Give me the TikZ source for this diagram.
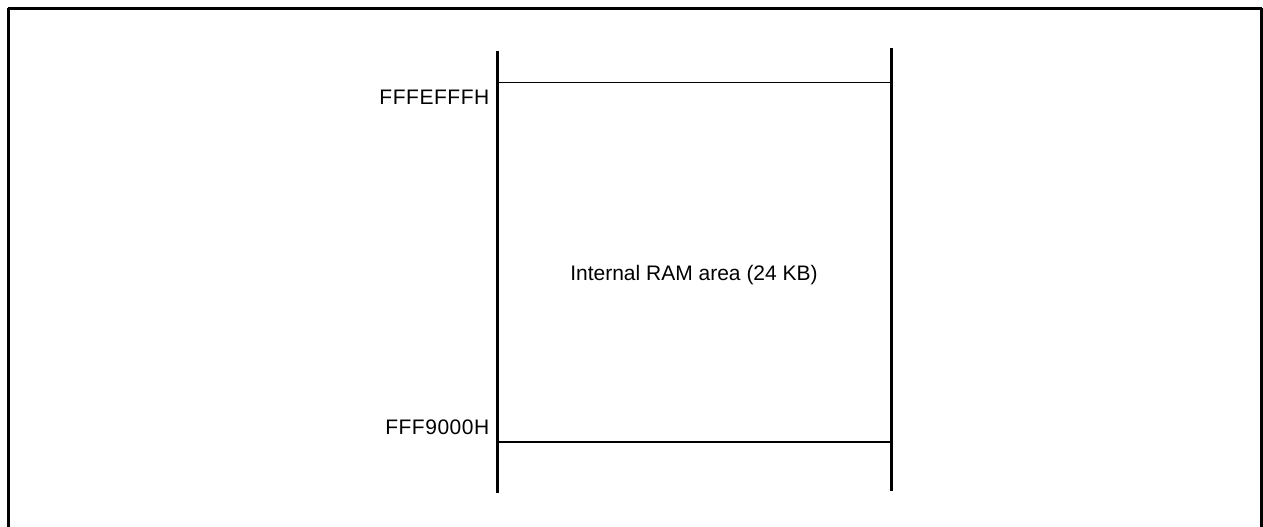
\documentclass[tikz,border=0pt]{standalone}
\usepackage{fontspec}
\setmainfont{Liberation Sans}
\begin{document}
\begin{tikzpicture}[x=1pt,y=-1pt,
  frameline/.style={line width=2.6pt},
  axisline/.style={line width=3pt},
  boundline/.style={line width=1.3pt},
  addr/.style={anchor=base east,inner sep=0pt,font=\fontsize{21}{24}\selectfont\addfontfeature{LetterSpace=2.5}},
  areatext/.style={anchor=base,inner sep=0pt,font=\fontsize{21}{24}\selectfont}]
\useasboundingbox (0,0) rectangle (1263,527);
\clip (0,0) rectangle (1263,527);
\draw[frameline] (8.3,8.3) -- (1261.7,8.3);
\draw[frameline] (8.3,8.3) -- (8.3,540);
\draw[frameline] (1261.7,8.3) -- (1261.7,540);
% columns
\coordinate (lt) at (497.3,51);
\coordinate (lb) at (497.3,493);
\coordinate (rt) at (891.7,48);
\coordinate (rb) at (891.7,491);
\draw[axisline] (lt) -- (lb);
\draw[axisline] (rt) -- (rb);
% boundaries
\coordinate (t1) at (497.3,82.7);
\coordinate (t2) at (891.7,82.7);
\coordinate (b1) at (497.3,442);
\coordinate (b2) at (891.7,442);
\draw[boundline] (t1) -- (t2);
\draw[boundline] (b1) -- (b2);
\node[addr] (hi) at (489.5,104) {FFFEFFFH};
\node[addr] (lo) at (489.5,434) {FFF9000H};
\node[areatext] (ram) at (694,280) {Internal RAM area (24 KB)};
\end{tikzpicture}
\end{document}
